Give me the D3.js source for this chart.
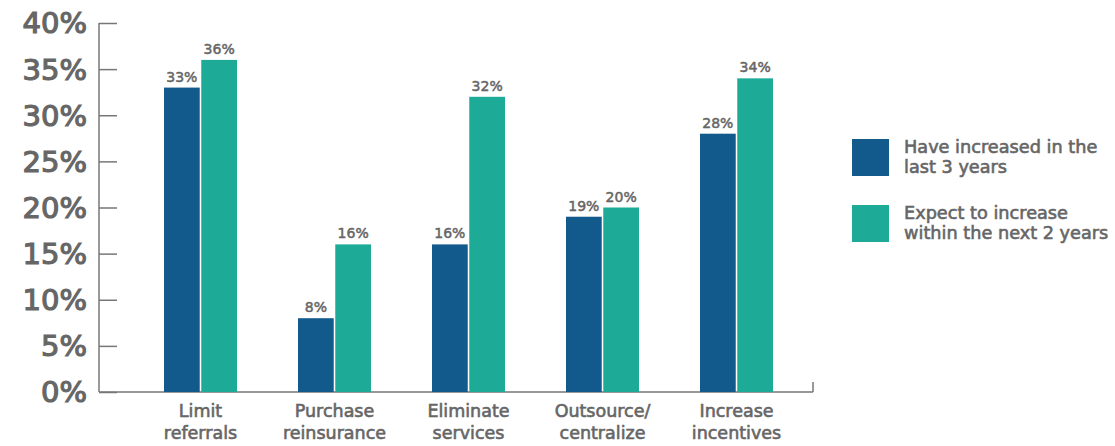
<!DOCTYPE html>
<meta charset="utf-8">
<script src="https://d3js.org/d3.v7.min.js"></script>
<style>
body { margin: 0; background: #fff; }
svg text { font-family: "DejaVu Sans", sans-serif; fill: #666; stroke: #666; stroke-width: 0.6px; }
</style>
<body>
<div id="canvas"></div>
<script>
// dados
var categories = [["Limit", "referrals"], ["Purchase", "reinsurance"], ["Eliminate", "services"], ["Outsource/", "centralize"], ["Increase", "incentives"]];
var series = ["Have increased in the last 3 years", "Expect to increase within the next 2 years"];
var legendLines = [["Have increased in the", "last 3 years"], ["Expect to increase", "within the next 2 years"]];
var increased = [33, 8, 16, 19, 28];
var expected = [36, 16, 32, 20, 34];
var yTicks = [0, 5, 10, 15, 20, 25, 30, 35, 40];
var colors = ["#135a8c", "#1dab98"];

var width = 1115, height = 446;

var svg = d3.select("#canvas").append("svg")
    .attr("width", width)
    .attr("height", height);

var axisLeftX = 99, axisRightX = 813;

// escala Y
var y = d3.scaleLinear().domain([0, 40]).range([392, 23]);

// escala das categorias
var keys = categories.map(function(d) { return d.join(" "); });
var x0 = d3.scaleBand().domain(keys).range([133.5, 803.5]);
var x1 = d3.scaleBand().domain(series)
    .range([x0.bandwidth() / 2 - 36.5, x0.bandwidth() / 2 + 36.5])
    .paddingInner(0.041);

// eixo Y (ticks para dentro)
var yAxis = svg.append("g")
    .attr("transform", "translate(" + axisLeftX + ",0)")
    .call(d3.axisRight(y).tickValues(yTicks).tickSize(18).tickFormat(""));
yAxis.select(".domain").remove();
yAxis.selectAll("line").attr("stroke", "#777").attr("stroke-width", 1.5);

svg.append("line")
    .attr("x1", axisLeftX).attr("x2", axisLeftX)
    .attr("y1", y(40)).attr("y2", y(0))
    .attr("stroke", "#777").attr("stroke-width", 1.5);

svg.selectAll(".ylabel")
    .data(yTicks)
    .enter().append("text")
    .attr("class", "ylabel")
    .attr("x", 87)
    .attr("y", function(d) { return y(d); })
    .attr("dy", "0.36em")
    .attr("text-anchor", "end")
    .style("font-size", "29px")
    .style("stroke-width", "1.2px")
    .text(function(d) { return d + "%"; });

// eixo X
svg.append("line")
    .attr("x1", axisLeftX).attr("x2", axisRightX)
    .attr("y1", y(0)).attr("y2", y(0))
    .attr("stroke", "#777").attr("stroke-width", 1.5);
svg.append("line")
    .attr("x1", axisRightX).attr("x2", axisRightX)
    .attr("y1", y(0)).attr("y2", y(0) - 10)
    .attr("stroke", "#777").attr("stroke-width", 1.5);

var data = keys.map(function(k, i) {
    return { key: k, lines: categories[i], values: [
        { s: series[0], v: increased[i], c: colors[0] },
        { s: series[1], v: expected[i], c: colors[1] }
    ] };
});

var grupos = svg.selectAll(".grupo")
    .data(data)
    .enter().append("g")
    .attr("class", "grupo")
    .attr("transform", function(d) { return "translate(" + x0(d.key) + ",0)"; });

grupos.selectAll("rect")
    .data(function(d) { return d.values; })
    .enter().append("rect")
    .attr("x", function(d) { return x1(d.s); })
    .attr("y", function(d) { return y(d.v); })
    .attr("width", x1.bandwidth())
    .attr("height", function(d) { return y(0) - y(d.v); })
    .attr("fill", function(d) { return d.c; });

grupos.selectAll(".val")
    .data(function(d) { return d.values; })
    .enter().append("text")
    .attr("class", "val")
    .attr("x", function(d) { return x1(d.s) + x1.bandwidth() / 2; })
    .attr("y", function(d) { return y(d.v) - 6; })
    .attr("text-anchor", "middle")
    .style("font-size", "14px")
    .style("stroke-width", "0.5px")
    .text(function(d) { return d.v + "%"; });

var cat = grupos.append("text")
    .attr("text-anchor", "middle")
    .style("font-size", "17.5px");
cat.selectAll("tspan")
    .data(function(d) { return d.lines; })
    .enter().append("tspan")
    .attr("x", x0.bandwidth() / 2)
    .attr("y", function(d, i) { return 417 + i * 22; })
    .text(function(d) { return d; });

// legenda
var legend = svg.selectAll(".legend")
    .data(series)
    .enter().append("g")
    .attr("class", "legend")
    .attr("transform", function(d, i) { return "translate(852," + (139 + i * 66) + ")"; });

legend.append("rect")
    .attr("width", 37)
    .attr("height", 37)
    .attr("fill", function(d, i) { return colors[i]; });

var lt = legend.append("text")
    .style("font-size", "17.7px");
lt.selectAll("tspan")
    .data(function(d, i) { return legendLines[i]; })
    .enter().append("tspan")
    .attr("x", 52)
    .attr("y", function(d, i) { return 14 + i * 20; })
    .text(function(d) { return d; });
</script>
</body>
